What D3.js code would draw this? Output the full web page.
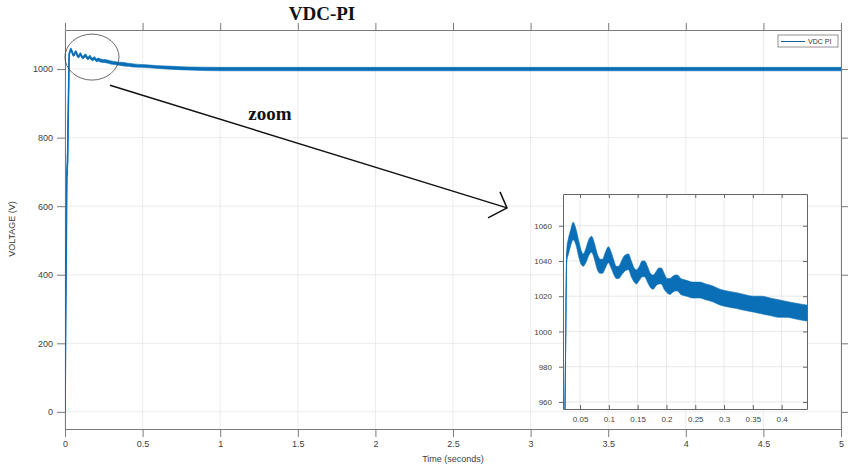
<!DOCTYPE html>
<html><head><meta charset="utf-8">
<script src="https://cdn.jsdelivr.net/npm/d3@7"></script>
<style>body{margin:0;background:#fff}</style>
</head><body>
<svg id="c" width="849" height="466"></svg>
<script>
// ---- data ----
const timeS  = [0, 0.012, 0.0145, 0.0165, 0.0175, 0.024, 0.027, 0.030, 0.034, 0.038, 0.043, 0.048, 0.052, 0.0557, 0.060, 0.065, 0.070, 0.075, 0.080, 0.085, 0.089, 0.094, 0.0993, 0.104, 0.109, 0.113, 0.117, 0.122, 0.127, 0.134, 0.139, 0.144, 0.148, 0.153, 0.158, 0.162, 0.167, 0.172, 0.177, 0.182, 0.187, 0.191, 0.196, 0.201, 0.206, 0.21, 0.215, 0.219, 0.225, 0.235, 0.245, 0.258, 0.268, 0.279, 0.293, 0.305, 0.322, 0.335, 0.351, 0.365, 0.38, 0.395, 0.409, 0.425, 0.443, 0.5, 0.6, 0.7, 0.8, 1.0, 1.5, 2, 2.5, 3, 3.5, 4, 4.5, 5];
const upperV = [0, 690, 750, 745, 760, 960, 1047, 1053, 1058, 1062, 1058, 1051, 1046, 1044, 1047, 1052, 1054, 1050, 1044, 1041, 1041, 1045, 1048, 1045, 1040, 1037, 1037, 1040, 1043, 1044, 1040, 1036, 1035, 1037, 1040, 1040, 1037, 1033, 1032, 1034, 1036, 1036, 1033, 1030, 1030, 1031, 1032, 1032, 1030, 1029, 1028, 1028, 1027, 1026, 1024, 1023, 1022, 1021, 1020, 1020, 1019, 1018, 1017, 1016, 1015, 1013, 1010, 1008, 1006, 1005, 1005, 1005, 1005, 1005, 1005, 1005, 1005, 1005];
const lowerV = [0, 690, 700, 690, 760, 960, 1040, 1044, 1049, 1052, 1049, 1042, 1038, 1037, 1039, 1043, 1045, 1041, 1035, 1033, 1033, 1036, 1039, 1036, 1032, 1030, 1030, 1032, 1034, 1035, 1031, 1028, 1027, 1029, 1031, 1031, 1028, 1025, 1024, 1026, 1027, 1027, 1024, 1022, 1021, 1022, 1023, 1023, 1021, 1020, 1019, 1019, 1018, 1017, 1015, 1014, 1013, 1012, 1011, 1010, 1009, 1008, 1008, 1007, 1006, 1005, 1002, 999, 997, 995, 995, 995, 995, 995, 995, 995, 995, 995];

const mainXTicks  = [0, 0.5, 1, 1.5, 2, 2.5, 3, 3.5, 4, 4.5, 5];
const mainYTicks  = [0, 200, 400, 600, 800, 1000];
const insetXTicks = [0.05, 0.1, 0.15, 0.2, 0.25, 0.3, 0.35, 0.4];
const insetYTicks = [960, 980, 1000, 1020, 1040, 1060];
const mainXDomain = [0, 5], mainYDomain = [-50, 1114];
const insetXDomain = [0.0204, 0.444], insetYDomain = [956, 1078];

const titleText = "VDC-PI", xLabel = "Time (seconds)", yLabel = "VOLTAGE (V)";
const seriesName = "VDC  PI", zoomText = "zoom";
// annotation anchors in data units of the main plot
const circleAt = {t: 0.174, v: 1035};
const arrowFrom = {t: 0.29, v: 953}, arrowTo = {t: 2.848, v: 595};

const color = "#0a6fb6";
const data = timeS.map((t, i) => ({t, hi: upperV[i], lo: lowerV[i]}));

const svg = d3.select("#c");
const sans = "'Liberation Sans', Arial, sans-serif";
const serif = "'Liberation Serif', 'Times New Roman', serif";

function drawAxes(g, x, y, xt, yt, opt) {
  const [x0, x1] = x.range(), [y0, y1] = y.range();
  g.append("rect").attr("x", x0).attr("y", y1).attr("width", x1 - x0).attr("height", y0 - y1).attr("fill", "#fff");
  const grid = g.append("g").attr("stroke", opt.grid).attr("stroke-width", 0.8);
  xt.forEach(d => grid.append("line").attr("x1", x(d)).attr("x2", x(d)).attr("y1", y1).attr("y2", y0));
  yt.forEach(d => grid.append("line").attr("y1", y(d)).attr("y2", y(d)).attr("x1", x0).attr("x2", x1));
  const ax = opt.axis;
  const mk = (axis, tr) => {
    const a = g.append("g").attr("transform", tr).call(axis);
    a.selectAll(".domain").attr("stroke", ax);
    a.selectAll(".tick line").attr("stroke", ax);
    a.selectAll("text").attr("fill", opt.text).attr("font-family", sans).attr("font-size", opt.fs);
    return a;
  };
  mk(d3.axisBottom(x).tickValues(xt).tickFormat(String).tickSize(opt.tb).tickSizeOuter(0).tickPadding(opt.pad), `translate(0,${y0})`);
  mk(d3.axisTop(x).tickValues(xt).tickFormat("").tickSize(opt.tt).tickSizeOuter(0), `translate(0,${y1})`);
  mk(d3.axisLeft(y).tickValues(yt).tickFormat(String).tickSize(opt.tl).tickSizeOuter(0).tickPadding(opt.pad), `translate(${x0},0)`);
  mk(d3.axisRight(y).tickValues(yt).tickFormat("").tickSize(opt.tr).tickSizeOuter(0), `translate(${x1},0)`);
}

function drawSeries(g, x, y, clipId, lw) {
  const [x0, x1] = x.range(), [y0, y1] = y.range();
  svg.append("clipPath").attr("id", clipId).append("rect")
    .attr("x", x0).attr("y", y1).attr("width", x1 - x0).attr("height", y0 - y1);
  const s = g.append("g").attr("clip-path", `url(#${clipId})`);
  s.append("path").datum(data)
    .attr("d", d3.area().x(d => x(d.t)).y0(d => y(d.lo)).y1(d => y(d.hi)).curve(d3.curveMonotoneX))
    .attr("fill", color).attr("stroke", color).attr("stroke-width", 0.6);
  s.append("path").datum(data)
    .attr("d", d3.line().x(d => x(d.t)).y(d => y((d.hi + d.lo) / 2)).curve(d3.curveMonotoneX))
    .attr("fill", "none").attr("stroke", color).attr("stroke-width", lw);
}

// ---- main plot ----
const x = d3.scaleLinear().domain(mainXDomain).range([65, 841]);
const y = d3.scaleLinear().domain(mainYDomain).range([429, 30]);
const gm = svg.append("g");
drawAxes(gm, x, y, mainXTicks, mainYTicks, {grid: "#e6e6e6", axis: "#7a7a7a", text: "#404040", fs: 9, tb: 8, tt: 7, tl: 8, tr: 7, pad: 4});
drawSeries(gm, x, y, "clipMain", 1.6);

svg.append("text").attr("x", (x.range()[0] + x.range()[1]) / 2).attr("y", 462)
  .attr("text-anchor", "middle").attr("font-family", sans).attr("font-size", 9).attr("fill", "#404040").text(xLabel);
svg.append("text").attr("transform", `translate(15,229) rotate(-90)`)
  .attr("text-anchor", "middle").attr("font-family", sans).attr("font-size", 9).attr("fill", "#404040").text(yLabel);
svg.append("text").attr("x", 322).attr("y", 20).attr("text-anchor", "middle")
  .attr("font-family", serif).attr("font-weight", "bold").attr("font-size", 19).attr("fill", "#111").text(titleText);

// legend
const lg = svg.append("g");
lg.append("rect").attr("x", 778).attr("y", 35).attr("width", 60).attr("height", 12).attr("fill", "#fff").attr("stroke", "#777").attr("stroke-width", 0.8);
lg.append("line").attr("x1", 781).attr("x2", 805).attr("y1", 41.5).attr("y2", 41.5).attr("stroke", "#1f5f8f").attr("stroke-width", 1);
lg.append("text").attr("x", 808).attr("y", 44).attr("font-family", sans).attr("font-size", 7).attr("fill", "#333").text(seriesName);

// annotations
svg.append("ellipse").attr("cx", x(circleAt.t)).attr("cy", y(circleAt.v)).attr("rx", 27).attr("ry", 23)
  .attr("fill", "none").attr("stroke", "#444").attr("stroke-width", 0.8);
const ax1 = x(arrowFrom.t), ay1 = y(arrowFrom.v), ax2 = x(arrowTo.t), ay2 = y(arrowTo.v);
svg.append("line").attr("x1", ax1).attr("y1", ay1).attr("x2", ax2).attr("y2", ay2).attr("stroke", "#111").attr("stroke-width", 1.5);
svg.append("path").attr("d", `M${ax2 - 7},${ay2 - 16} L${ax2},${ay2} L${ax2 - 19},${ay2 + 10}`)
  .attr("fill", "none").attr("stroke", "#111").attr("stroke-width", 1.5);
svg.append("text").attr("x", 270).attr("y", 120).attr("text-anchor", "middle")
  .attr("font-family", serif).attr("font-weight", "bold").attr("font-size", 19).attr("fill", "#111").text(zoomText);

// ---- inset ----
const xi = d3.scaleLinear().domain(insetXDomain).range([563, 807]);
const yi = d3.scaleLinear().domain(insetYDomain).range([409, 194]);
const gi = svg.append("g");
drawAxes(gi, xi, yi, insetXTicks, insetYTicks, {grid: "#e2e2e2", axis: "#666", text: "#444", fs: 8, tb: -4, tt: -4, tl: 4, tr: -4, pad: 7});
drawSeries(gi, xi, yi, "clipInset", 1);
</script>
</body></html>
